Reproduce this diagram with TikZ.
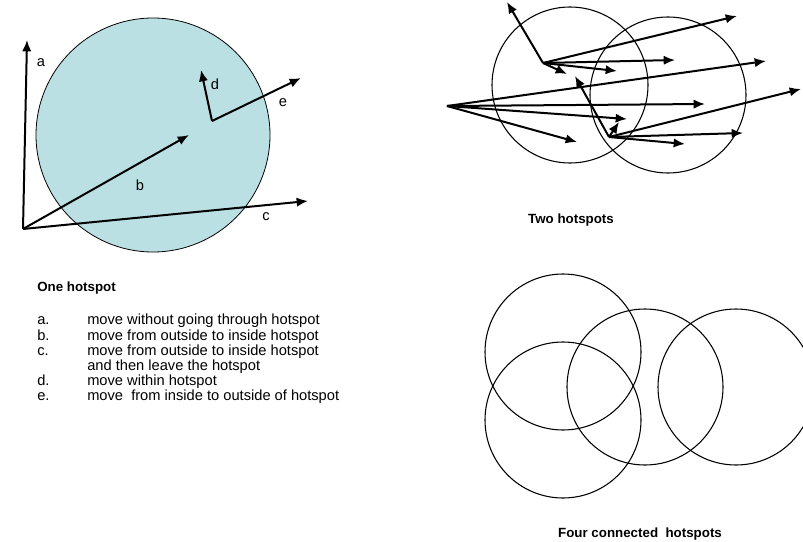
\documentclass[tikz,border=0pt]{standalone}
\usepackage{fontspec}
\setmainfont{Liberation Sans}
\usetikzlibrary{arrows.meta}
\definecolor{hotfill}{RGB}{187,224,227}
\begin{document}
\begin{tikzpicture}[x=0.75pt,y=-0.75pt,
  mov/.style={-{Latex[length=8.5pt,width=7pt]}, line width=1.5pt},
  hot/.style={circle, draw, line width=0.8pt, inner sep=0pt, outer sep=0pt, minimum size=117pt},
  lbl/.style={font=\fontsize{11}{11.4}\selectfont, inner sep=0pt},
  ttl/.style={font=\fontsize{10}{11.4}\selectfont\bfseries, inner sep=0pt}
]
  \useasboundingbox (0,0) rectangle (803,542);

  \node[hot, fill=hotfill, minimum size=175.5pt, line width=0.6pt] (big) at (153,135) {};
  \coordinate (o) at (23,229);
  \coordinate (ta) at (27,40);
  \coordinate (tb) at (189,135);
  \coordinate (tc) at (308,201);
  \coordinate (in) at (212,121);
  \coordinate (td) at (201,70);
  \coordinate (te) at (301,78);
  \draw[mov] (o) -- (ta);
  \draw[mov] (o) -- (tb);
  \draw[mov] (o) -- (tc);
  \draw[mov] (in) -- (td);
  \draw[mov] (in) -- (te);
  \node[lbl] (la) at (41,63) {a};
  \node[lbl] (lb) at (140,185) {b};
  \node[lbl] (lc) at (266,217) {c};
  \node[lbl] (ld) at (215,84) {d};
  \node[lbl] (le) at (283,103) {e};

  \node[ttl, anchor=west] (one) at (37,288) {One hotspot};
  \node[lbl, anchor=north west] (list) at (37,314) {%
    \begin{tabular}{@{}p{37.5pt}@{}l@{}}
    a. & move without going through hotspot\\
    b. & move from outside to inside hotspot\\
    c. & move from outside to inside hotspot\\
       & and then leave the hotspot\\
    d. & move within hotspot\\
    e. & move\ \ from inside to outside of hotspot
    \end{tabular}};

  \node[hot] (h1) at (570,85) {};
  \node[hot] (h2) at (668,95) {};
  \coordinate (p) at (543,63);
  \coordinate (q) at (447,106);
  \coordinate (r) at (609,137);
  \foreach \n/\x/\y in {p1/507/2, p2/737/16, p3/675/60, p4/617/71, p5/567/74,
                        q1/766/61, q2/705/104, q3/627/119, q4/577/142,
                        r1/575/76, r2/801/89, r3/743/133, r4/685/144, r5/619/122}
    \coordinate (\n) at (\x,\y);
  \foreach \n in {p1,p2,p3,p4,p5} \draw[mov] (p) -- (\n);
  \foreach \n in {q1,q2,q3,q4} \draw[mov] (q) -- (\n);
  \foreach \n in {r1,r2,r3,r4,r5} \draw[mov] (r) -- (\n);
  \node[ttl] (two) at (571,220) {Two hotspots};

  \node[hot] (f1) at (563,352) {};
  \node[hot] (f2) at (563,420) {};
  \node[hot] (f3) at (645,387) {};
  \node[hot] (f4) at (736,387) {};
  \node[ttl] (four) at (640,534) {Four connected\ \ hotspots};
\end{tikzpicture}
\end{document}
